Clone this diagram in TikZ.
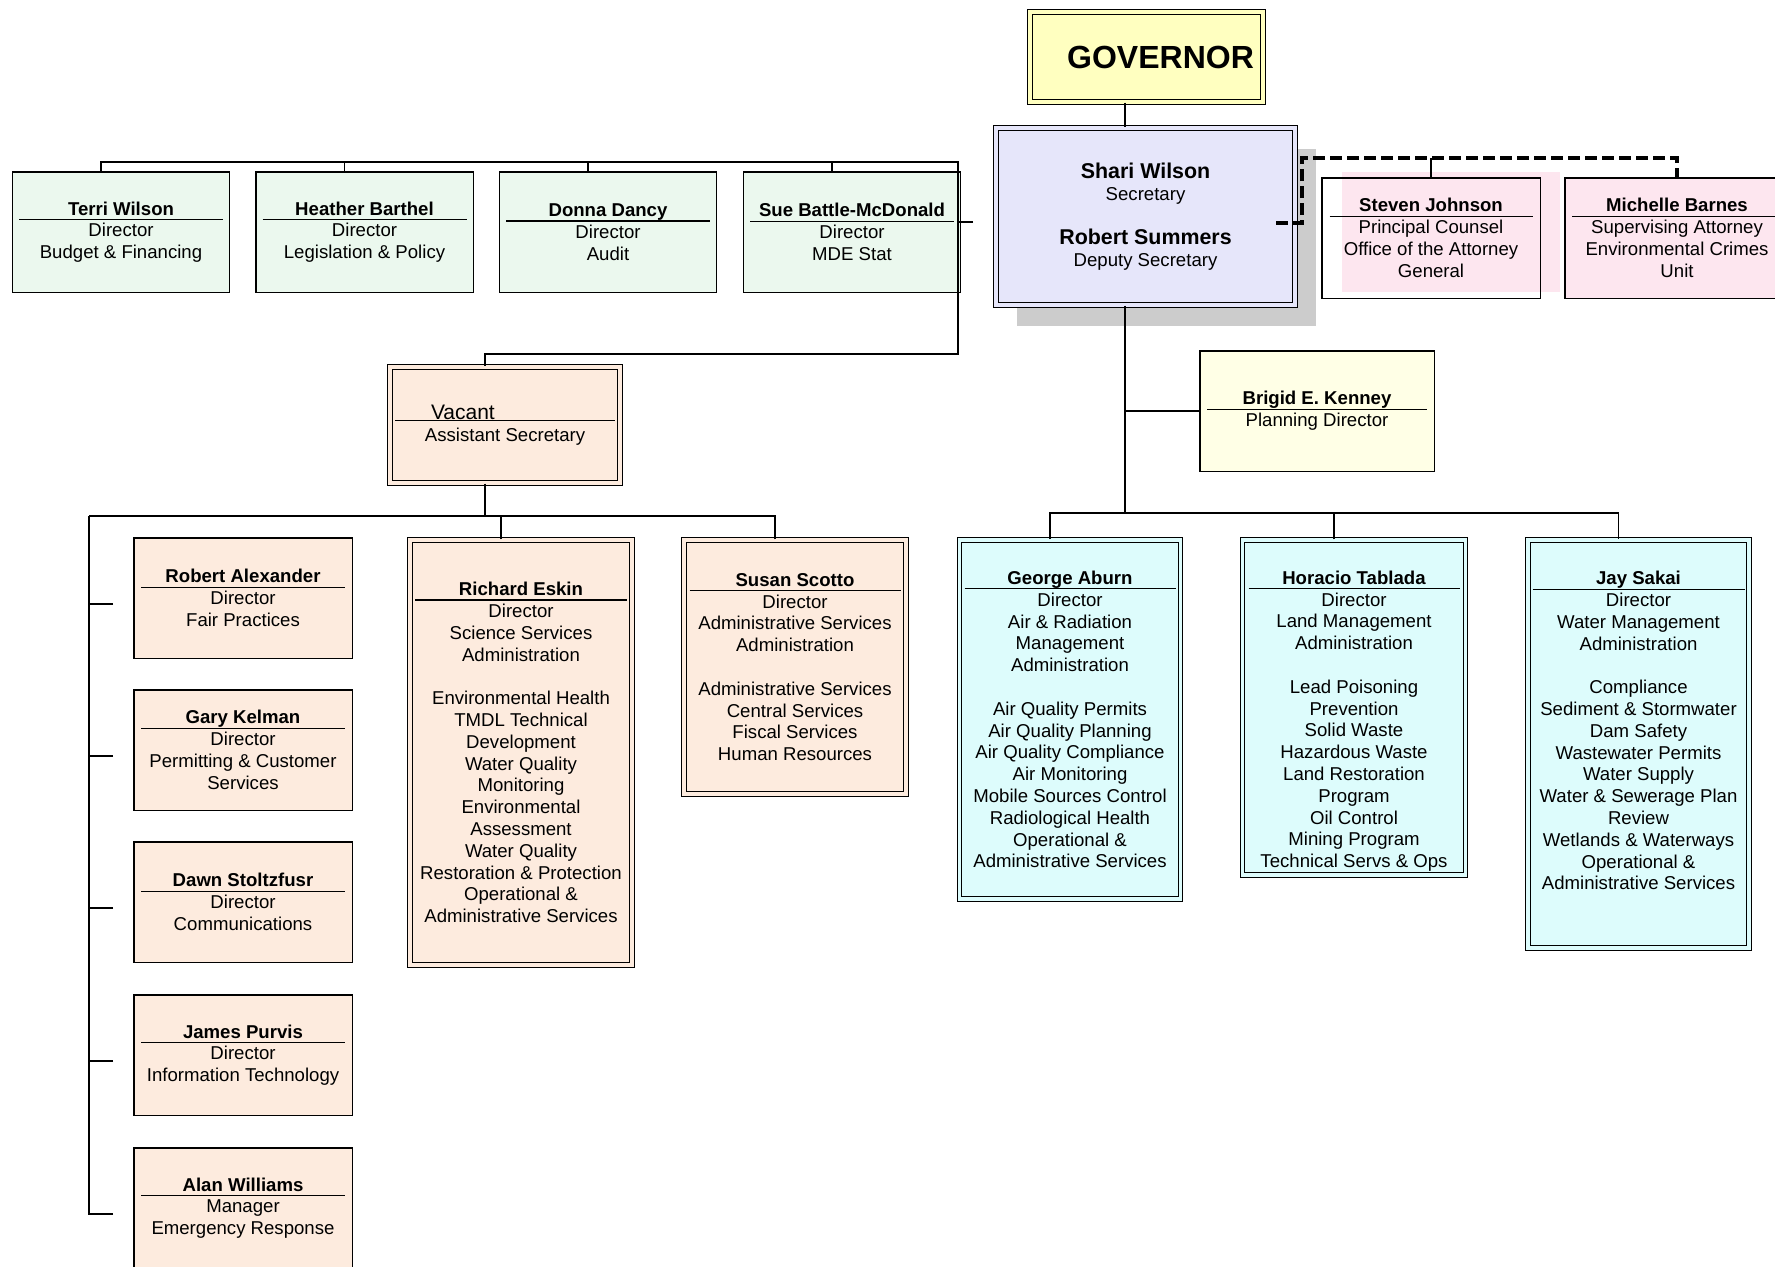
\documentclass[tikz,border=0pt]{standalone}
\usepackage{fontspec}
\setmainfont{Liberation Sans}
\usetikzlibrary{shadows}

\definecolor{govfill}{HTML}{FFFFC0}
\definecolor{secfill}{HTML}{E6E6FA}
\definecolor{staffill}{HTML}{EBF8EE}
\definecolor{asstfill}{HTML}{FDEBDE}
\definecolor{adminfill}{HTML}{DDFCFC}
\definecolor{planfill}{HTML}{FFFFE6}
\definecolor{legalfill}{HTML}{FDE6EF}

\newcommand{\hd}[2][102pt]{\rlap{\smash{\rule[-2.5pt]{#1}{0.6pt}}}\makebox[#1]{\textbf{#2}}}
\newcommand{\secname}{\fontsize{10.7}{12}\selectfont\bfseries}

\begin{document}
\begin{tikzpicture}[x=0.5pt,y=-0.5pt,line width=0.8pt,
  box/.style={draw,line width=0.7pt,inner sep=0pt,align=center,font=\fontsize{9.3}{10.9}\selectfont},
  dbox/.style={box,line width=0.5pt,double distance=1.8pt},
  staffbox/.style={box,fill=staffill,minimum width=108.7pt,minimum height=60.2pt},
  officebox/.style={box,fill=asstfill,minimum width=109.2pt,minimum height=60.2pt},
  asstbox/.style={dbox,fill=asstfill,double=asstfill,minimum width=111pt},
  adminbox/.style={dbox,fill=adminfill,double=adminfill},
  legalbox/.style={box,minimum width=109.2pt,minimum height=60.2pt},
  dashline/.style={line width=1.6pt,dash pattern=on 6pt off 2.5pt}]
\useasboundingbox (0,0) rectangle (1775,1266);

% top
\node[dbox,fill=govfill,double=govfill,minimum width=116.7pt,minimum height=45.2pt,
  font=\fontsize{16}{19}\selectfont\bfseries] (gov) at (1146.5,57) {\hspace*{14pt}GOVERNOR};
\node[dbox,fill=secfill,double=secfill,minimum width=149.7pt,minimum height=88.7pt,
  drop shadow={shadow xshift=10.5pt,shadow yshift=-10.5pt,fill=black!20,opacity=1}] (sec) at (1145.5,216.5)
  {{\secname Shari Wilson}\\Secretary\\[11pt]{\secname Robert Summers}\\Deputy Secretary};

% legal
\node[legalbox,drop shadow={shadow xshift=10pt,shadow yshift=3pt,fill=legalfill,opacity=1}] (steven) at (1431,238)
  {\hd[101.5pt]{Steven Johnson}\\Principal Counsel\\Office of the Attorney\\General};
\node[legalbox,fill=legalfill,minimum width=112.2pt] (michelle) at (1677,238)
  {\hd[105pt]{Michelle Barnes}\\Supervising Attorney\\Environmental Crimes\\Unit};

% staff row
\node[staffbox] (terri) at (121,232) {\hd{Terri Wilson}\\Director\\Budget \& Financing};
\node[staffbox] (heather) at (364.5,232) {\hd{Heather Barthel}\\Director\\Legislation \& Policy};
\node[staffbox] (donna) at (608,232) {\hd{Donna Dancy}\\Director\\Audit};
\node[staffbox] (sue) at (852,232) {\hd{Sue Battle-McDonald}\\Director\\MDE Stat};

% assistant secretary
\node[asstbox,minimum width=115.2pt,minimum height=58.2pt] (vacant) at (505,425)
  {\rlap{\smash{\rule[-1pt]{110pt}{0.6pt}}}\makebox[110pt][l]{\hspace{18pt}\fontsize{10.5}{12}\selectfont Vacant}\\Assistant Secretary};

\node[officebox] (robert) at (243,598) {\hd{Robert Alexander}\\Director\\Fair Practices};
\node[officebox] (gary) at (243,750) {\hd{Gary Kelman}\\Director\\Permitting \& Customer\\Services};
\node[officebox] (dawn) at (243,902) {\hd{Dawn Stoltzfusr}\\Director\\Communications};
\node[officebox] (james) at (243,1055) {\hd{James Purvis}\\Director\\Information Technology};
\node[officebox] (alan) at (243,1208) {\hd{Alan Williams}\\Manager\\Emergency Response};

\node[asstbox,minimum height=212.7pt] (richard) at (521,752.5)
  {\hd[106pt]{Richard Eskin}\\Director\\Science Services\\Administration\\[10.9pt]Environmental Health\\TMDL Technical\\Development\\Water Quality\\Monitoring\\Environmental\\Assessment\\Water Quality\\Restoration \& Protection\\Operational \&\\Administrative Services};
\node[asstbox,minimum height=127.2pt] (susan) at (795,667)
  {\hd[105.5pt]{Susan Scotto}\\Director\\Administrative Services\\Administration\\[10.9pt]Administrative Services\\Central Services\\Fiscal Services\\Human Resources};

% planning and administrations
\node[box,fill=planfill,minimum width=117.2pt,minimum height=60.2pt] (brigid) at (1317,411)
  {\hd[110pt]{Brigid E. Kenney}\\Planning Director};

\node[adminbox,minimum width=110.5pt,minimum height=179.7pt] (george) at (1070,719.5)
  {\hd[105.5pt]{George Aburn}\\Director\\Air \& Radiation\\Management\\Administration\\[10.9pt]Air Quality Permits\\Air Quality Planning\\Air Quality Compliance\\Air Monitoring\\Mobile Sources Control\\Radiological Health\\Operational \&\\Administrative Services};
\node[adminbox,minimum width=111.5pt,minimum height=167.7pt] (horacio) at (1354,707.5)
  {\rule{0pt}{20.5pt}\hd[105.5pt]{Horacio Tablada}\\Director\\Land Management\\Administration\\[10.9pt]Lead Poisoning\\Prevention\\Solid Waste\\Hazardous Waste\\Land Restoration\\Program\\Oil Control\\Mining Program\\Technical Servs \& Ops};
\node[adminbox,minimum width=110.7pt,minimum height=204.2pt] (jay) at (1638.5,744)
  {\hd[106pt]{Jay Sakai}\\Director\\Water Management\\Administration\\[10.9pt]Compliance\\Sediment \& Stormwater\\Dam Safety\\Wastewater Permits\\Water Supply\\Water \& Sewerage Plan\\Review\\Wetlands \& Waterways\\Operational \&\\Administrative Services\rule[-13.4pt]{0pt}{13.4pt}};

% lines
\coordinate (trunk) at (1125,0);
\coordinate (rbus) at (1125,513);
\draw (gov.south -| trunk) -- (sec.north -| trunk);
\draw (sec.south -| trunk) -- (rbus);
\draw (brigid.west) -- (brigid.west -| trunk);
\draw ([xshift=-10pt]george.north) |- (rbus) -| ([xshift=-10pt]jay.north);
\draw ([xshift=-10pt]horacio.north) |- (rbus);

\coordinate (lbus) at (958,162);
\coordinate (lknee) at (958,354);
\coordinate (secstub) at (973,222);
\draw ([xshift=-10pt]terri.north) |- (lbus) -- (lknee) -| ([xshift=-10pt]vacant.north);
\draw ([xshift=-10pt]heather.north) |- (lbus);
\draw ([xshift=-10pt]donna.north) |- (lbus);
\draw ([xshift=-10pt]sue.north) |- (lbus);
\draw (secstub) -- (secstub -| lbus);

\coordinate (abus) at (89,516);
\draw ([xshift=-10pt]vacant.south) |- (abus);
\draw ([xshift=-10pt]richard.north) |- (abus);
\draw ([xshift=-10pt]susan.north) |- (abus);
\draw ([xshift=-10pt,yshift=-3pt]robert.west) -| (abus);
\draw ([xshift=-10pt,yshift=-3pt]gary.west) -| (abus);
\draw ([xshift=-10pt,yshift=-3pt]dawn.west) -| (abus);
\draw ([xshift=-10pt,yshift=-3pt]james.west) -| (abus);
\draw ([xshift=-10pt,yshift=-3pt]alan.west) -| (abus);

\coordinate (dstart) at (1276,223);
\coordinate (dknee) at (1302,158);
\draw[dashline] (dstart) -| (dknee) -| (michelle.north);
\draw (steven.north) -- (steven.north |- dknee);
\end{tikzpicture}
\end{document}
